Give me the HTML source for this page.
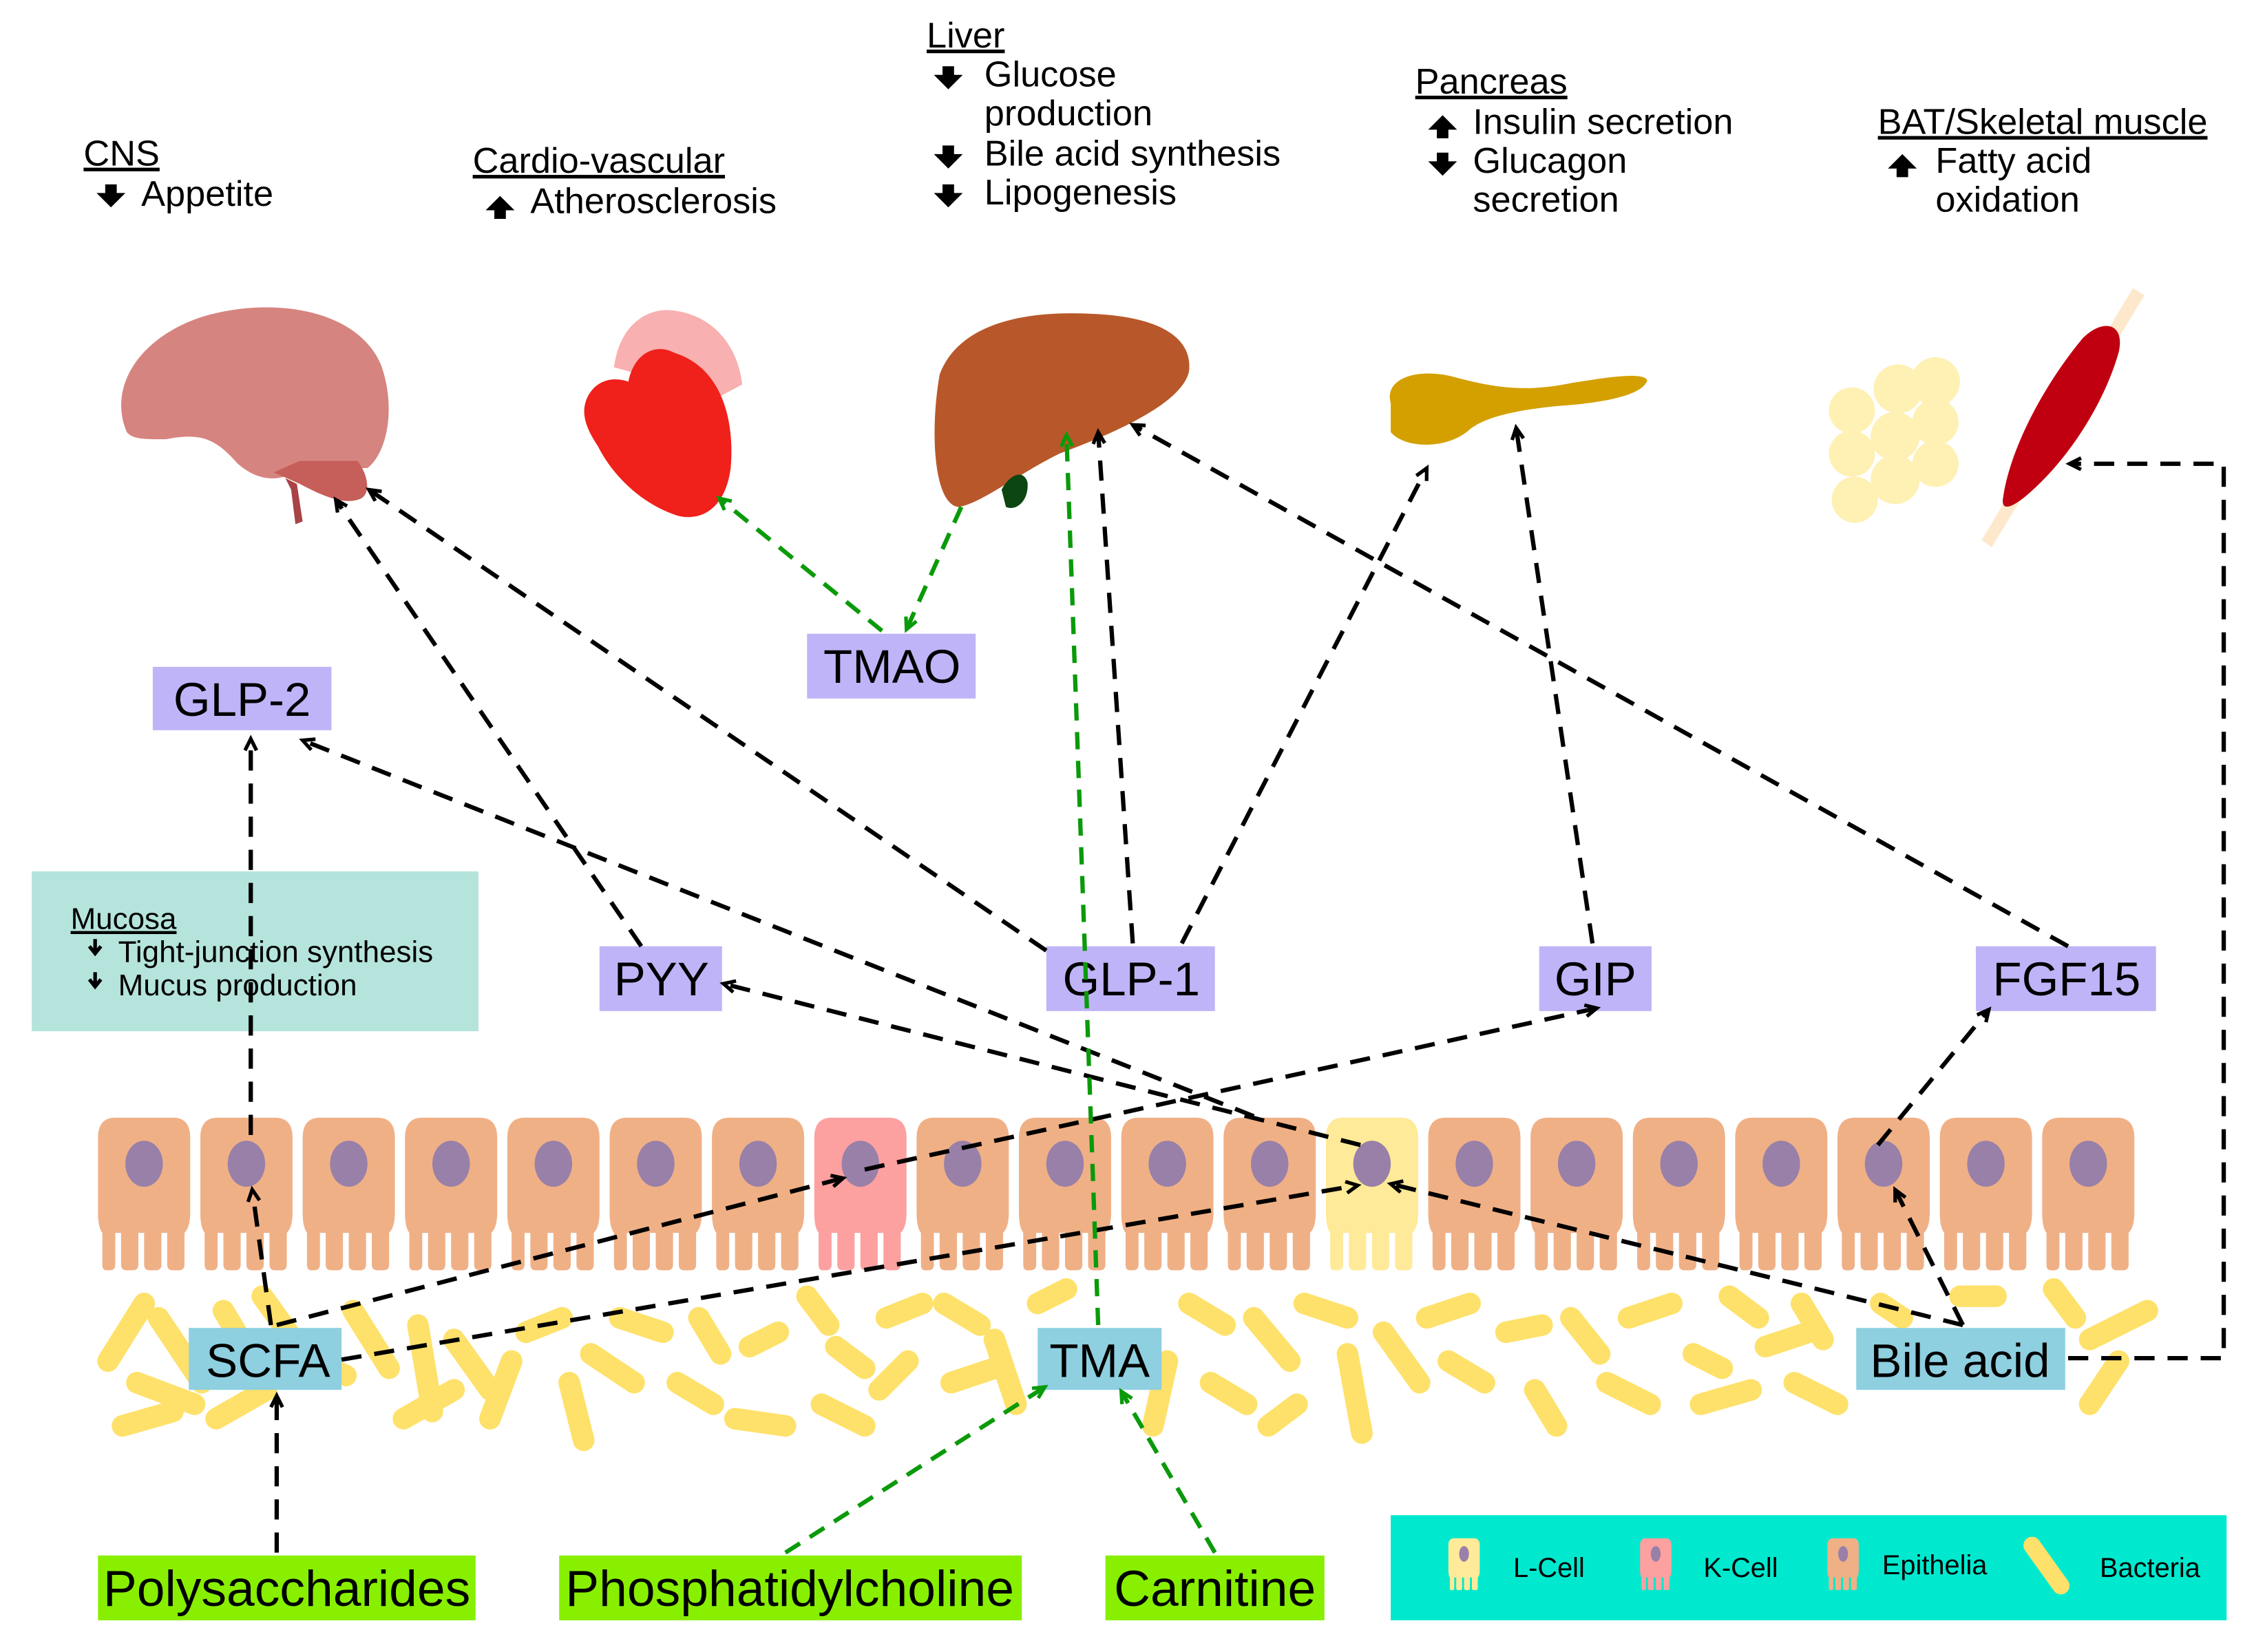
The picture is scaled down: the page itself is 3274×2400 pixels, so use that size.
<!DOCTYPE html>
<html><head><meta charset="utf-8"><style>
html,body{margin:0;padding:0;background:#fff}
svg{display:block}
text{font-family:"Liberation Sans",Arial,sans-serif}
</style></head><body>
<svg width="3274" height="2400" viewBox="0 0 1564 1147" preserveAspectRatio="none" xmlns="http://www.w3.org/2000/svg">
<defs>
<marker id="ab" markerWidth="12" markerHeight="12" refX="9" refY="5" orient="auto" markerUnits="userSpaceOnUse"><path d="M1,1 L9,5 L1,9" fill="none" stroke="#000" stroke-width="2.5"/></marker>
<marker id="ag" markerWidth="12" markerHeight="12" refX="9" refY="5" orient="auto" markerUnits="userSpaceOnUse"><path d="M1,1 L9,5 L1,9" fill="none" stroke="#0a9a0a" stroke-width="2.5"/></marker>
<g id="cell"><path d="M0,14 Q0,0 12,0 L52,0 Q64,0 64,14 L64,66 Q64,76 60,80 L60,102 Q60,106 56,106 L52,106 Q48,106 48,102 L48,80 L44,80 L44,102 Q44,106 40,106 L36,106 Q32,106 32,102 L32,80 L28,80 L28,102 Q28,106 24,106 L20,106 Q16,106 16,102 L16,80 L12,80 L12,102 Q12,106 8,106 L6,106 Q3,106 3,102 L3,80 Q0,76 0,66 Z"/></g>
</defs>
<!-- mucosa -->
<rect x="22" y="605" width="310" height="111" fill="#b5e4dc"/>
<text x="49" y="645" font-size="21" text-decoration="underline">Mucosa</text>
<text x="82" y="668" font-size="21">Tight-junction synthesis</text>
<text x="82" y="691" font-size="21">Mucus production</text>
<path d="M66,652 v8 M62,657 l4,5 l4,-5" stroke="#000" stroke-width="2.5" fill="none"/>
<path d="M66,675 v8 M62,680 l4,5 l4,-5" stroke="#000" stroke-width="2.5" fill="none"/>

<!-- cells -->
<g transform="translate(0,776)">
<use href="#cell" x="565" fill="#fda0a0"/><use href="#cell" x="920" fill="#feea98"/>
</g>
<g transform="translate(0,776)" fill="#f0b086">
<use href="#cell" x="68"/><use href="#cell" x="139"/><use href="#cell" x="210"/><use href="#cell" x="281"/><use href="#cell" x="352"/><use href="#cell" x="423"/><use href="#cell" x="494"/>
<use href="#cell" x="636"/><use href="#cell" x="707"/><use href="#cell" x="778"/><use href="#cell" x="849"/>
<use href="#cell" x="991"/><use href="#cell" x="1062"/><use href="#cell" x="1133"/><use href="#cell" x="1204"/><use href="#cell" x="1275"/><use href="#cell" x="1346"/><use href="#cell" x="1417"/>
</g>
<g fill="#9880a8">
<ellipse cx="100" cy="808" rx="13" ry="16"/><ellipse cx="171" cy="808" rx="13" ry="16"/><ellipse cx="242" cy="808" rx="13" ry="16"/><ellipse cx="313" cy="808" rx="13" ry="16"/><ellipse cx="384" cy="808" rx="13" ry="16"/><ellipse cx="455" cy="808" rx="13" ry="16"/><ellipse cx="526" cy="808" rx="13" ry="16"/><ellipse cx="597" cy="808" rx="13" ry="16"/><ellipse cx="668" cy="808" rx="13" ry="16"/><ellipse cx="739" cy="808" rx="13" ry="16"/><ellipse cx="810" cy="808" rx="13" ry="16"/><ellipse cx="881" cy="808" rx="13" ry="16"/><ellipse cx="952" cy="808" rx="13" ry="16"/><ellipse cx="1023" cy="808" rx="13" ry="16"/><ellipse cx="1094" cy="808" rx="13" ry="16"/><ellipse cx="1165" cy="808" rx="13" ry="16"/><ellipse cx="1236" cy="808" rx="13" ry="16"/><ellipse cx="1307" cy="808" rx="13" ry="16"/><ellipse cx="1378" cy="808" rx="13" ry="16"/><ellipse cx="1449" cy="808" rx="13" ry="16"/>
</g>

<!-- bacteria -->
<g stroke="#fee16a" stroke-width="15" stroke-linecap="round" fill="none">
<path d="M75,945 L100,905"/><path d="M110,915 L140,960"/><path d="M95,960 L135,975"/><path d="M85,990 L120,980"/><path d="M155,910 L170,935"/><path d="M150,985 L185,965"/><path d="M182,900 L200,925"/><path d="M205,940 L240,955"/><path d="M245,910 L270,950"/><path d="M290,920 L300,980"/><path d="M280,985 L315,965"/><path d="M315,930 L340,965"/><path d="M355,945 L340,985"/><path d="M365,925 L390,915"/><path d="M395,960 L405,1000"/><path d="M410,940 L440,960"/><path d="M430,915 L460,925"/><path d="M470,960 L495,975"/><path d="M485,915 L500,940"/><path d="M520,935 L540,925"/><path d="M510,985 L545,990"/><path d="M560,900 L575,920"/><path d="M580,935 L600,950"/><path d="M570,975 L600,990"/><path d="M615,915 L640,905"/><path d="M630,945 L610,965"/><path d="M655,905 L680,920"/><path d="M660,960 L690,950"/><path d="M690,930 L705,975"/><path d="M720,905 L740,895"/><path d="M810,945 L800,990"/><path d="M825,905 L850,920"/><path d="M840,960 L865,975"/><path d="M870,915 L895,945"/><path d="M880,990 L900,975"/><path d="M905,905 L935,915"/><path d="M935,940 L945,995"/><path d="M960,925 L985,960"/><path d="M990,915 L1020,905"/><path d="M1005,945 L1030,960"/><path d="M1045,925 L1070,920"/><path d="M1065,965 L1080,990"/><path d="M1090,915 L1110,940"/><path d="M1115,960 L1145,975"/><path d="M1130,915 L1160,905"/><path d="M1175,940 L1195,950"/><path d="M1180,975 L1215,965"/><path d="M1200,900 L1220,915"/><path d="M1225,935 L1255,925"/><path d="M1245,960 L1275,975"/><path d="M1250,905 L1265,930"/><path d="M1305,905 L1320,915"/><path d="M1360,900 L1385,900"/><path d="M1400,930 L1380,955"/><path d="M1425,895 L1440,915"/><path d="M1450,930 L1490,910"/><path d="M1470,945 L1450,975"/>
</g>

<!-- organs -->
<path d="M88,300 C75,270 95,235 140,220 C190,205 250,215 265,255 C275,285 268,315 255,325 L210,325 C195,335 180,335 165,322 C150,305 140,300 115,305 C100,305 92,305 88,300 Z" fill="#d68480"/>
<path d="M190,328 L208,320 L248,320 C256,330 258,345 248,347 C238,350 225,345 208,336 Z" fill="#c65e5a"/>
<path d="M198,332 L206,336 L210,362 L205,364 L202,340 Z" fill="#a84446"/>
<path d="M426,255 C430,225 450,212 470,216 C495,220 512,240 515,267 L500,275 Z" fill="#f8b0b0"/>
<path d="M408,275 C415,262 428,262 436,265 C440,245 455,238 468,245 C500,255 510,290 507,325 C503,355 485,362 470,358 C445,350 425,330 415,310 C405,295 403,285 408,275 Z" fill="#f0201a"/>
<path d="M652,260 C665,225 710,215 760,218 C800,220 828,232 825,258 C820,280 775,300 735,315 C705,330 680,350 665,352 C648,350 645,300 652,260 Z" fill="#b8582a"/>
<path d="M695,340 C700,330 710,325 713,335 C714,348 705,355 698,352 Z" fill="#0c4612"/>
<path d="M965,280 C960,262 985,255 1010,262 C1040,270 1060,272 1090,266 C1115,262 1140,258 1143,264 C1140,275 1110,280 1080,282 C1050,285 1030,290 1020,298 C1005,312 975,312 965,300 Z" fill="#d4a000"/>
<g fill="#fff0b4"><circle cx="1285" cy="285" r="16"/><circle cx="1317" cy="270" r="17"/><circle cx="1343" cy="265" r="17"/><circle cx="1285" cy="315" r="16"/><circle cx="1315" cy="303" r="17"/><circle cx="1343" cy="293" r="16"/><circle cx="1287" cy="347" r="16"/><circle cx="1315" cy="333" r="17"/><circle cx="1343" cy="322" r="16"/></g>
<path d="M1375,375 L1480,200 L1488,205 L1382,380 Z" fill="#fde8cc"/>
<path d="M1390,345 C1395,310 1420,265 1445,235 C1460,220 1475,225 1470,245 C1460,280 1435,320 1405,345 C1395,353 1388,355 1390,345 Z" fill="#c00010"/>

<!-- boxes -->
<g font-size="33" text-anchor="middle">
<rect x="106" y="463" width="124" height="44" fill="#c0b4f8"/><text x="168" y="497">GLP-2</text>
<rect x="560" y="440" width="117" height="45" fill="#c0b4f8"/><text x="619" y="474">TMAO</text>
<rect x="416" y="657" width="85" height="45" fill="#c0b4f8"/><text x="459" y="691">PYY</text>
<rect x="726" y="657" width="117" height="45" fill="#c0b4f8"/><text x="785" y="691">GLP-1</text>
<rect x="1068" y="657" width="78" height="45" fill="#c0b4f8"/><text x="1107" y="691">GIP</text>
<rect x="1371" y="657" width="125" height="45" fill="#c0b4f8"/><text x="1434" y="691">FGF15</text>
<rect x="131" y="922" width="106" height="43" fill="#8ecfe0"/><text x="186" y="956">SCFA</text>
<rect x="720" y="922" width="86" height="43" fill="#8ecfe0"/><text x="763" y="956">TMA</text>
<rect x="1288" y="922" width="145" height="43" fill="#8ecfe0"/><text x="1360" y="956">Bile acid</text>
</g>
<g font-size="35" text-anchor="middle">
<rect x="68" y="1080" width="262" height="45" fill="#88ef00"/><text x="199" y="1115">Polysaccharides</text>
<rect x="388" y="1080" width="321" height="45" fill="#88ef00"/><text x="548" y="1115">Phosphatidylcholine</text>
<rect x="767" y="1080" width="152" height="45" fill="#88ef00"/><text x="843" y="1115">Carnitine</text>
</g>

<!-- legend -->
<rect x="965" y="1052" width="580" height="73" fill="#00e9cf"/>
<g transform="translate(1005,1068) scale(0.34)"><use href="#cell" fill="#feea98"/><ellipse cx="32" cy="32" rx="10" ry="16" fill="#9880a8"/></g>
<g transform="translate(1138,1068) scale(0.34)"><use href="#cell" fill="#fda0a0"/><ellipse cx="32" cy="32" rx="10" ry="16" fill="#9880a8"/></g>
<g transform="translate(1268,1068) scale(0.34)"><use href="#cell" fill="#f0b086"/><ellipse cx="32" cy="32" rx="10" ry="16" fill="#9880a8"/></g>
<path d="M1410,1073 L1430,1101" stroke="#fee16a" stroke-width="12" stroke-linecap="round"/>
<g font-size="19"><text x="1050" y="1095">L-Cell</text><text x="1182" y="1095">K-Cell</text><text x="1306" y="1093">Epithelia</text><text x="1457" y="1095">Bacteria</text></g>

<!-- black arrows -->
<g stroke="#000" stroke-width="3" stroke-dasharray="14,9" fill="none" marker-end="url(#ab)">
<path d="M192,1078 L192,969"/>
<path d="M188,920 L175,826"/>
<path d="M174,788 L174,513"/>
<path d="M192,920 L585,818"/>
<path d="M600,812 L1108,700"/>
<path d="M237,944 L942,823"/>
<path d="M1362,920 L965,822"/>
<path d="M1362,920 L1315,826"/>
<path d="M1303,795 L1380,701"/>
<path d="M944,795 L502,683"/>
<path d="M870,775 L210,514"/>
<path d="M445,657 L233,347"/>
<path d="M726,660 L256,340"/>
<path d="M786,655 L762,300"/>
<path d="M820,655 L990,325"/>
<path d="M1105,655 L1052,297"/>
<path d="M1435,657 L786,295"/>
<path d="M1435,943 L1543,943 L1543,322 L1436,322"/>
</g>
<!-- green arrows -->
<g stroke="#0a9a0a" stroke-width="3" stroke-dasharray="12,8" fill="none" marker-end="url(#ag)">
<path d="M762,920 L740,302"/>
<path d="M545,1078 L725,963"/>
<path d="M843,1078 L778,966"/>
<path d="M667,352 L629,437"/>
<path d="M612,438 L499,346"/>
</g>

<!-- top labels -->
<g font-size="25">
<text x="58" y="115" text-decoration="underline">CNS</text>
<text x="98" y="143">Appetite</text>
<text x="328" y="120" text-decoration="underline">Cardio-vascular</text>
<text x="368" y="148">Atherosclerosis</text>
<text x="643" y="33" text-decoration="underline">Liver</text>
<text x="683" y="60">Glucose</text><text x="683" y="87">production</text>
<text x="683" y="115">Bile acid synthesis</text><text x="683" y="142">Lipogenesis</text>
<text x="982" y="65" text-decoration="underline">Pancreas</text>
<text x="1022" y="93">Insulin secretion</text><text x="1022" y="120">Glucagon</text><text x="1022" y="147">secretion</text>
<text x="1303" y="93" text-decoration="underline">BAT/Skeletal muscle</text>
<text x="1343" y="120">Fatty acid</text><text x="1343" y="147">oxidation</text>
</g>
<g fill="#000">
<path d="M73,128 h8 v6 h6 l-10,10 l-10,-10 h6 Z"/>
<path d="M343,152 h8 v-6 h6 l-10,-10 l-10,10 h6 Z"/>
<path d="M654,46 h8 v6 h6 l-10,10 l-10,-10 h6 Z"/>
<path d="M654,101 h8 v6 h6 l-10,10 l-10,-10 h6 Z"/>
<path d="M654,128 h8 v6 h6 l-10,10 l-10,-10 h6 Z"/>
<path d="M997,96 h8 v-6 h6 l-10,-10 l-10,10 h6 Z"/>
<path d="M997,106 h8 v6 h6 l-10,10 l-10,-10 h6 Z"/>
<path d="M1316,123 h8 v-6 h6 l-10,-10 l-10,10 h6 Z"/>
</g>
</svg>
</body></html>
